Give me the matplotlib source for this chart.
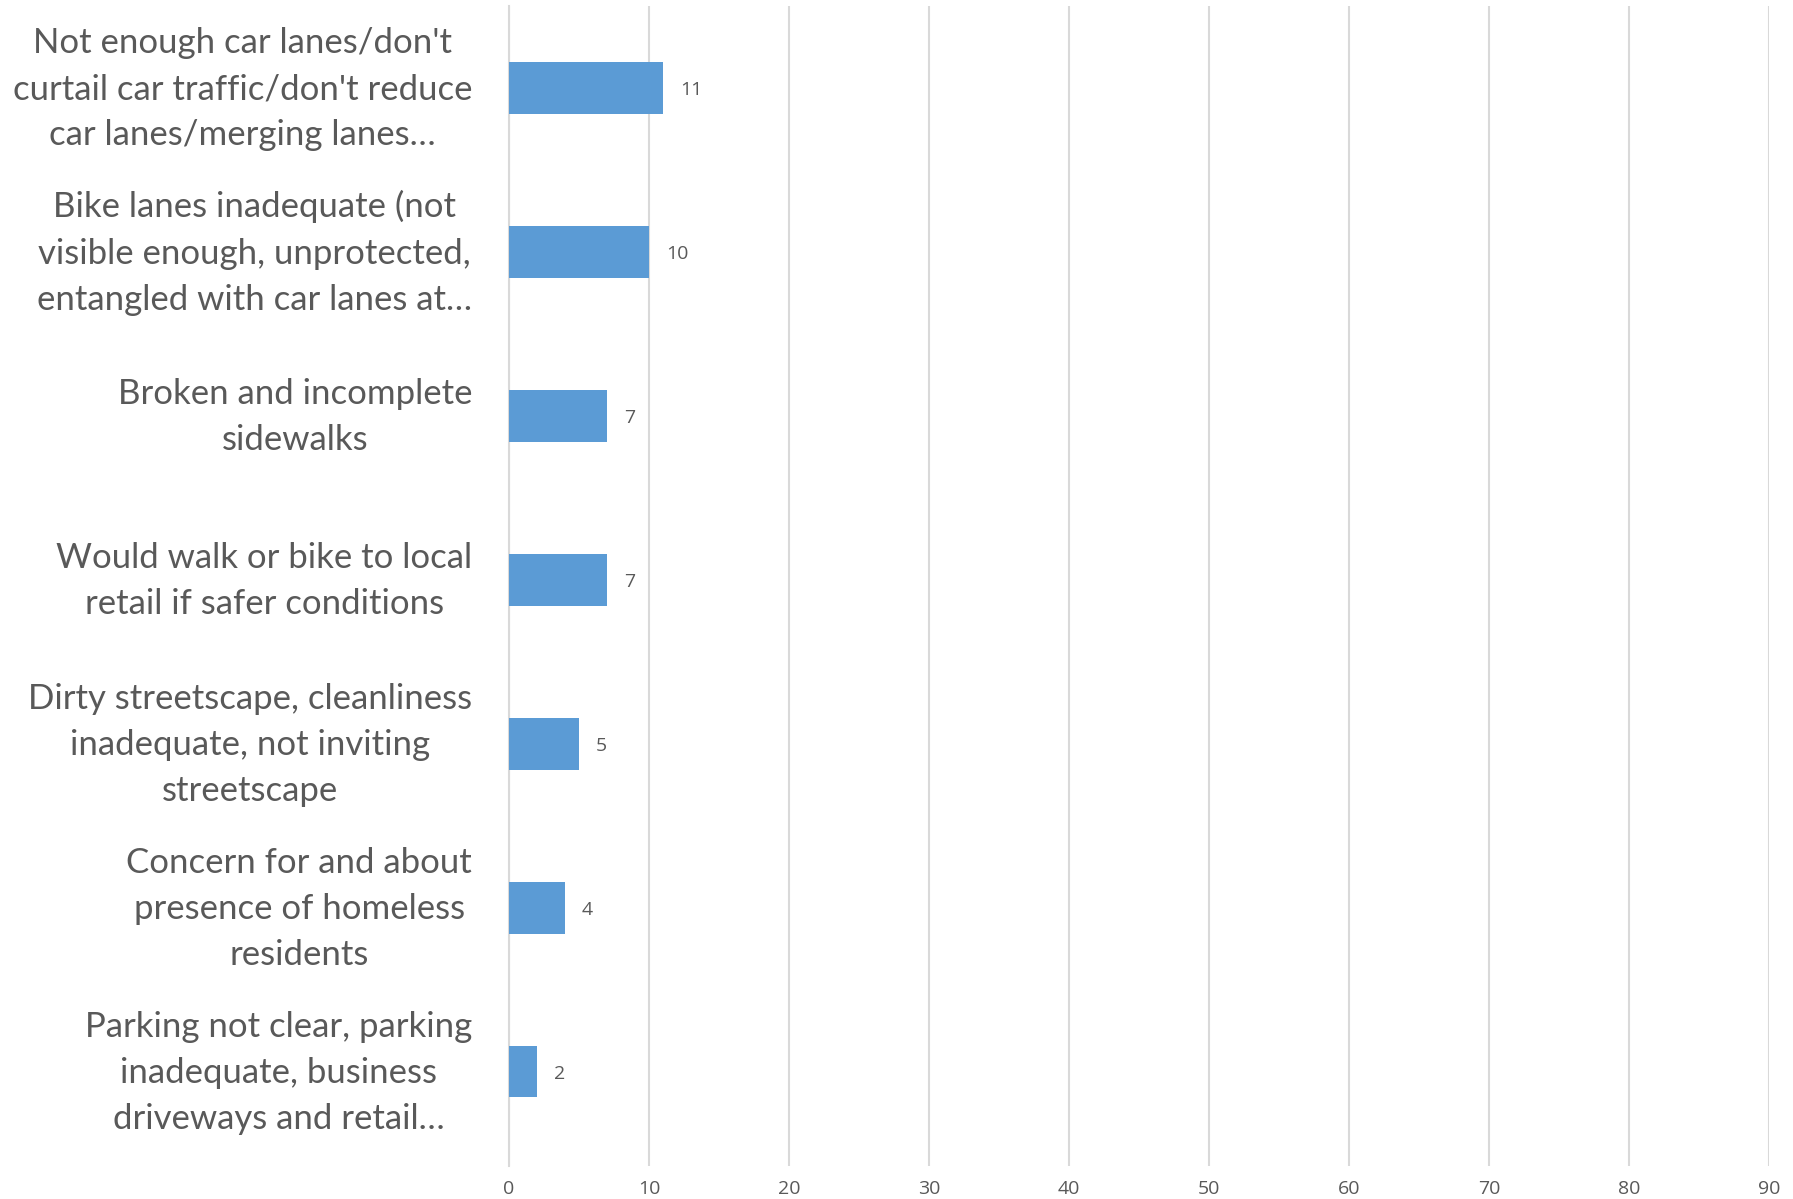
import matplotlib.pyplot as plt
import matplotlib.transforms as mtransforms

categories = [
    "Not enough car lanes/don't\ncurtail car traffic/don't reduce\ncar lanes/merging lanes\u2026",
    "Bike lanes inadequate (not\nvisible enough, unprotected,\nentangled with car lanes at\u2026",
    "Broken and incomplete\nsidewalks",
    "Would walk or bike to local\nretail if safer conditions",
    "Dirty streetscape, cleanliness\ninadequate, not inviting\nstreetscape",
    "Concern for and about\npresence of homeless\nresidents",
    "Parking not clear, parking\ninadequate, business\ndriveways and retail\u2026",
]
counts = [11, 10, 7, 7, 5, 4, 2]
xticks = [0, 10, 20, 30, 40, 50, 60, 70, 80, 90]

plt.rcParams['font.family'] = ['Lato', 'DejaVu Sans']
text_col = '#595959'

fig = plt.figure(figsize=(17.93, 11.99), dpi=100)
ax = fig.add_axes([0.2839, 0.0275, 0.7027, 0.9675])

pos = list(range(len(categories)))
ax.barh(pos, counts, height=0.314, color='#5B9BD5', zorder=3)
for p, v in zip(pos, counts):
    ax.annotate(str(v), (v, p), xytext=(17, -2), textcoords='offset pixels',
                va='center', ha='left', fontsize=14, color=text_col, family=['Open Sans', 'DejaVu Sans'])

ax.set_xlim(0, 90)
ax.set_ylim(6.575, -0.5)
ax.set_xticks(xticks)
ax.set_xticklabels([str(t) for t in xticks], fontsize=14, color=text_col, family=['Open Sans', 'DejaVu Sans'])
ax.set_yticks(pos)
ax.set_yticklabels(categories, fontsize=25, color=text_col, multialignment='center', linespacing=1.55)
ax.tick_params(axis='both', length=0)
ax.tick_params(axis='y', pad=26.5)
ax.tick_params(axis='x', pad=10)
ax.grid(axis='x', color='#D9D9D9', linewidth=1.5, zorder=0)
for s in ['top', 'right', 'bottom']:
    ax.spines[s].set_visible(False)
ax.spines['left'].set_color('#D9D9D9')
ax.spines['left'].set_linewidth(1.5)

# nudge category labels up a bit so they centre on the bars like the original
shift = mtransforms.ScaledTranslation(0, 0.09, fig.dpi_scale_trans)
for lbl in ax.get_yticklabels():
    lbl.set_transform(lbl.get_transform() + shift)

fig.savefig('out.png', dpi=100)
